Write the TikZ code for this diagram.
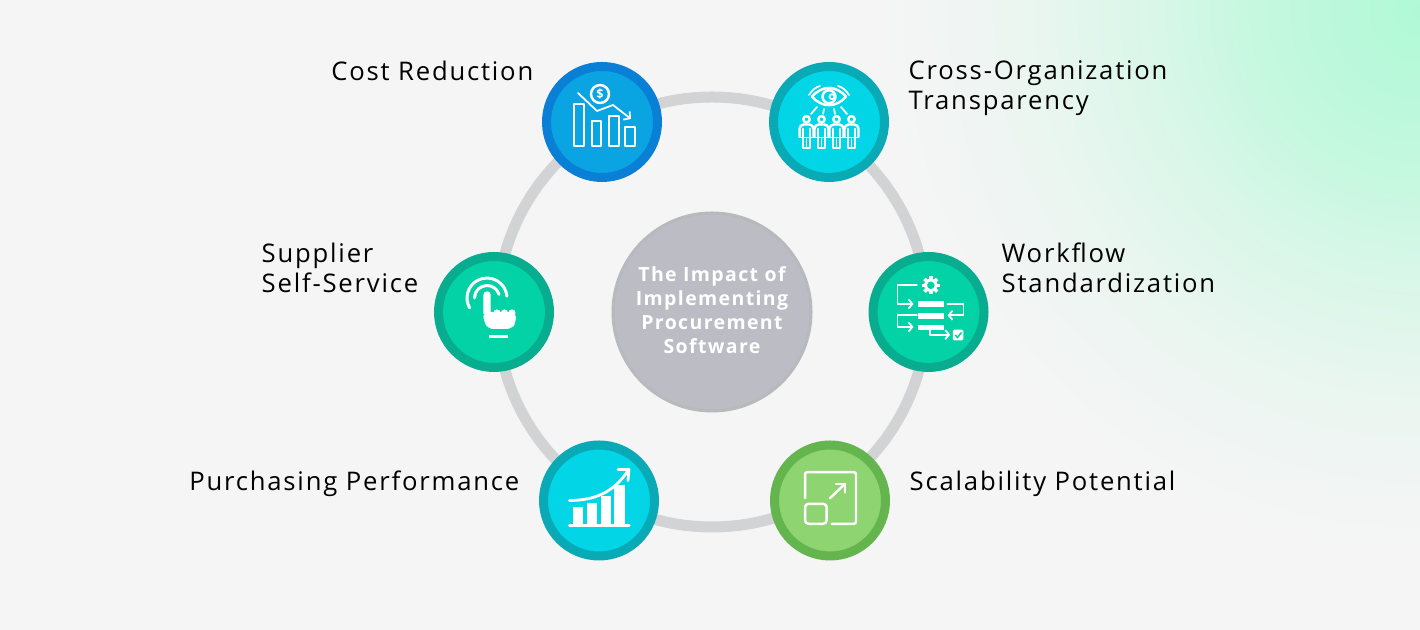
\documentclass[tikz,border=0pt]{standalone}
\usepackage{fontspec}
\usepackage{xcolor}
\usepackage{tikz}
\usetikzlibrary{arrows.meta}
\newfontfamily\labelfont[LetterSpace=7]{Open Sans}
\definecolor{paper}{HTML}{F5F5F5}
\definecolor{mint}{HTML}{B0F9D6}
\definecolor{ringgray}{HTML}{D1D3D4}
\definecolor{coregray}{HTML}{BBBCC4}
\definecolor{coreedge}{HTML}{B7B9BC}
\definecolor{blueout}{HTML}{0A7FD6}
\definecolor{bluein}{HTML}{0AA4E2}
\definecolor{cyanout}{HTML}{09A9B6}
\definecolor{cyanin}{HTML}{02D5E6}
\definecolor{tealout}{HTML}{07AD8E}
\definecolor{tealin}{HTML}{03D2A6}
\definecolor{leafout}{HTML}{64B54E}
\definecolor{leafin}{HTML}{8ED471}
\pgfdeclareradialshading{cornerglow}{\pgfpoint{0bp}{0bp}}{color(0bp)=(mint); color(7.5bp)=(mint!70!paper); color(12.5bp)=(mint!40!paper); color(18.75bp)=(mint!13!paper); color(25bp)=(paper)}
\tikzset{
  hub/.style 2 args={circle,draw=#1,fill=#2,line width=0.09cm,minimum size=1.11cm,inner sep=0pt},
  itemtext/.style={text=black,font=\labelfont\fontsize{7.3pt}{8.54pt}\selectfont,align=left,inner sep=0pt},
  icon/.style={draw=white,line width=0.5pt,line cap=round,line join=round},
  iconbold/.style={draw=white,line width=0.7pt,line cap=round,line join=round},
  px/.style={x=0.01cm,y=-0.01cm}
}

\begin{document}
\begin{tikzpicture}
  \useasboundingbox (0,0) rectangle (14.2,6.3);
  \fill[paper] (0,0) rectangle (14.2,6.3);
  \shade[shading=cornerglow] (14.2,6.2) circle (5.4);

  % ring and middle disc
  \node[circle,draw=ringgray,line width=0.11cm,minimum size=4.3cm,inner sep=0pt] (ring) at (7.12,3.18) {};
  \node[circle,draw=coreedge,fill=coregray,line width=0.03cm,minimum size=1.98cm,inner sep=0pt] (core) at (ring.center) {};
  \node[inner sep=0pt,text=white,align=center,font=\labelfont\bfseries\fontsize{5.55pt}{6.83pt}\selectfont] (coretext) at (7.12,3.195) {The Impact of\\Implementing\\Procurement\\Software};

  % the six hubs
  \node[hub={blueout}{bluein}] (cost) at (6.02,5.08) {};
  \node[hub={cyanout}{cyanin}] (cross) at (8.29,5.08) {};
  \node[hub={tealout}{tealin}] (supplier) at (4.94,3.18) {};
  \node[hub={tealout}{tealin}] (workflow) at (9.285,3.18) {};
  \node[hub={cyanout}{cyanin}] (purchasing) at (5.99,1.295) {};
  \node[hub={leafout}{leafin}] (scale) at (8.30,1.295) {};

  % labels
  \node[itemtext,anchor=east] (costtext) at (5.34,5.595) {Cost Reduction};
  \node[itemtext,anchor=west] (crosstext) at (9.08,5.415) {Cross-Organization\\Transparency};
  \node[itemtext,anchor=west] (suppliertext) at (2.61,3.625) {Supplier\\Self-Service};
  \node[itemtext,anchor=west] (workflowtext) at (10.01,3.625) {Workflow\\Standardization};
  \node[itemtext,anchor=east] (purchasingtext) at (5.20,1.465) {Purchasing Performance};
  \node[itemtext,anchor=west] (scaletext) at (9.09,1.465) {Scalability Potential};

  % falling bars and coin
  \begin{scope}[shift={(cost.center)},px]
    \draw[icon] (-28,-18) rectangle (-18,24);
    \draw[icon] (-10,-1) rectangle (-1,24);
    \draw[icon] (7,-6) rectangle (17,24);
    \draw[icon] (23,5) rectangle (33,24);
    \draw[icon,-{Straight Barb[length=1.3pt,width=3pt]}] (-24,-29) -- (-5,-11) -- (11,-17) -- (29,-3);
    \draw[iconbold] (-2,-28) circle [radius=9];
    \node[text=white,font=\labelfont\bfseries\fontsize{3.6pt}{4pt}\selectfont,inner sep=0pt] (coin) at (-2,-28) {\$};
  \end{scope}

  % eye over four figures
  \begin{scope}[shift={(cross.center)},px]
    \draw[iconbold] (-17,-25.3) .. controls (-7,-37) and (7,-37) .. (17,-25.3) .. controls (7,-14) and (-7,-14) .. (-17,-25.3);
    \draw[iconbold] (0,-25.3) circle [radius=6.5];
    \draw[icon] (3,-25.3) circle [radius=2.5];
    \draw[icon] (-20,-27) .. controls (-17,-32) and (-13,-35) .. (-9,-36);
    \draw[icon] (20,-27) .. controls (17,-32) and (13,-35) .. (9,-36);
    \draw[icon] (-12,-15) -- (-18,-8);
    \draw[icon] (-5,-13) -- (-6,-8);
    \draw[icon] (5,-13) -- (6,-8);
    \draw[icon] (12,-15) -- (18,-8);
    \foreach \fx in {-22.5,-7.5,7.5,22.5} {
      \draw[iconbold] (\fx,-2.7) circle [radius=3.2];
      \draw[iconbold,rounded corners=1.2pt] (\fx-7,15) -- (\fx-7,2.5) -- (\fx+7,2.5) -- (\fx+7,15);
      \draw[iconbold] (\fx-3.5,7) -- (\fx-3.5,26) -- (\fx+3.5,26) -- (\fx+3.5,7);
      \draw[icon] (\fx-7,15.5) -- (\fx+7,15.5);
      \draw[icon] (\fx,17) -- (\fx,26);
    }
  \end{scope}

  % pressing hand
  \begin{scope}[shift={(supplier.center)},px]
    \draw[iconbold,line width=0.85pt] (-7,-14) ++(150:20) arc [start angle=150,end angle=355,radius=20];
    \draw[iconbold,line width=0.85pt] (-7,-14) ++(180:12.5) arc [start angle=180,end angle=343,radius=12.5];
    \fill[white] (-10.7,-17) arc [start angle=180,end angle=360,radius=3.7] -- (-3.3,2) -- (-10.7,2) -- cycle;
    \fill[white,rounded corners=1.5pt] (-10.7,0) -- (22,0) -- (22,10) -- (18,17) -- (-6,17) -- (-10.7,8) -- cycle;
    \foreach \kx in {0,7.5,15}
      \fill[white] (\kx+3,1) circle [radius=3.6];
    \fill[white] (-4.7,22.7) rectangle (14,26);
  \end{scope}

  % gear, steps and check box
  \begin{scope}[shift={(workflow.center)},px]
    \draw[draw=white,line width=0.85pt] (2.3,-26.7) circle [radius=5.5];
    \foreach \ga in {0,45,...,315}
      \draw[draw=white,line width=1pt] (2.3,-26.7) ++(\ga:6) -- ++(\ga:3);
    \fill[white] (-11,-10.7) rectangle (15.7,-5);
    \fill[white] (-11,1) rectangle (15.7,6.7);
    \fill[white] (-11,12.7) rectangle (15.7,18.3);
    \draw[icon,-{Straight Barb[length=1.1pt,width=2.6pt]}] (-11.7,-26.7) -- (-31,-26.7) -- (-31,-8) -- (-15,-8);
    \draw[icon,-{Straight Barb[length=1.1pt,width=2.6pt]}] (19,-8) -- (35,-8) -- (35,3.3) -- (19,3.3);
    \draw[icon,-{Straight Barb[length=1.1pt,width=2.6pt]}] (-11.7,3.3) -- (-31,3.3) -- (-31,15) -- (-15,15);
    \draw[icon,-{Straight Barb[length=1.1pt,width=2.6pt]}] (1.7,18.3) -- (1.7,22.7) -- (21.7,22.7);
    \fill[white,rounded corners=0.4pt] (24.3,17.7) rectangle (35,28.3);
    \draw[draw=tealin,line width=0.45pt] (26.8,23) -- (29,25.5) -- (33,20.5);
  \end{scope}

  % rising bars
  \begin{scope}[shift={(purchasing.center)},px]
    \fill[white] (-26.3,25) rectangle (-16.3,6.7);
    \fill[white] (-12.3,25) rectangle (-2.3,3);
    \fill[white] (2,25) rectangle (12,-4);
    \fill[white] (15.3,25) rectangle (26,-15.7);
    \draw[draw=white,line width=0.9pt,line cap=round] (-29.7,25.3) -- (30,25.3);
    \draw[iconbold,line width=0.8pt] (-29.7,0) .. controls (-5,0) and (15,-8) .. (29,-30);
    \draw[iconbold,line width=0.8pt] (19,-31) -- (30,-31) -- (29,-20);
  \end{scope}

  % resize square
  \begin{scope}[shift={(scale.center)},px]
    \draw[iconbold,rounded corners=0.6pt] (-25,-2.3) -- (-25,-28.3) -- (26,-28.3) -- (26,23.3) -- (1.7,23.3);
    \draw[iconbold,rounded corners=1pt] (-25,3.3) rectangle (-3.3,23.3);
    \draw[iconbold] (0,-2.3) -- (15,-16.7);
    \draw[iconbold] (6,-16.7) -- (15,-16.7) -- (15,-8);
  \end{scope}
\end{tikzpicture}
\end{document}
